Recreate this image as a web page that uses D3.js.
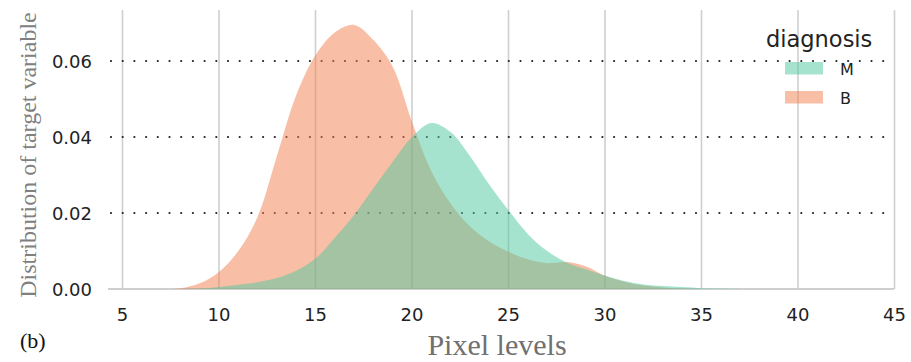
<!DOCTYPE html>
<html>
<head>
<meta charset="utf-8">
<script src="https://cdn.jsdelivr.net/npm/d3@7"></script>
<style>
  html, body { margin: 0; padding: 0; background: #fff; }
  svg { display: block; }
</style>
</head>
<body>
<svg id="chart" width="911" height="362"></svg>
<script>
// ── DATA ──────────────────────────────────────────────────────────────────────

const pixelLevels = [5, 6, 7, 8, 9, 10, 11, 12, 13, 14, 15, 16, 17, 18, 19, 20, 21, 22, 23, 24, 25,
                     26, 27, 28, 29, 30, 31, 32, 33, 34, 35, 36, 37, 40, 45];

const densityM = [0, 0, 0, 0, 0.0001, 0.0005, 0.0011, 0.0018, 0.0029, 0.0048, 0.0080, 0.0135, 0.0195,
                  0.0265, 0.0335, 0.0400, 0.0437, 0.0413, 0.0350, 0.0275, 0.0207, 0.0145, 0.0100,
                  0.0070, 0.0052, 0.0035, 0.0021, 0.0012, 0.0008, 0.0005, 0.0002, 0.0001, 0, 0, 0];

const densityB = [0, 0, 0, 0.0002, 0.0015, 0.0045, 0.0100, 0.0190, 0.0350, 0.0510, 0.0615, 0.0675,
                  0.0695, 0.0655, 0.0585, 0.0440, 0.0310, 0.0225, 0.0165, 0.0125, 0.0098, 0.0078,
                  0.0068, 0.0071, 0.0060, 0.0035, 0.0019, 0.0009, 0.0004, 0.0001, 0, 0, 0, 0, 0];

const xTicks = [5, 10, 15, 20, 25, 30, 35, 40, 45];
const yTicks = [0, 0.02, 0.04, 0.06];
const legendItems = ['M', 'B'];

const COLORS = { M: '#4dc79f', B: '#f17f4d' };

// ── SCALES ────────────────────────────────────────────────────────────────────

const svg = d3.select('#chart');

const x = d3.scaleLinear().domain([5, 45]).range([122.5, 894.5]);
const y = d3.scaleLinear().domain([0, 0.06]).range([289, 61]);
const plotTop = 10;

// ── GRID ──────────────────────────────────────────────────────────────────────

// vertical grid lines
svg.append('g')
  .selectAll('line')
  .data(xTicks)
  .join('line')
  .attr('x1', d => x(d)).attr('x2', d => x(d))
  .attr('y1', plotTop).attr('y2', y(0))
  .attr('stroke', '#cfcfcf')
  .attr('stroke-width', 1.6);

// dotted horizontal lines
svg.append('g')
  .selectAll('line')
  .data(yTicks.filter(d => d > 0))
  .join('line')
  .attr('x1', 111).attr('x2', 893)
  .attr('y1', d => y(d)).attr('y2', d => y(d))
  .attr('stroke', '#222')
  .attr('stroke-width', 2.2)
  .attr('stroke-linecap', 'round')
  .attr('stroke-dasharray', '0 11.7');

// baseline
svg.append('line')
  .attr('x1', 108).attr('x2', 894)
  .attr('y1', y(0)).attr('y2', y(0))
  .attr('stroke', '#cfcfcf')
  .attr('stroke-width', 2);

// ── DENSITY AREAS ─────────────────────────────────────────────────────────────

const area = d3.area()
  .x(d => x(d[0]))
  .y0(y(0))
  .y1(d => y(Math.max(0, d[1])))
  .curve(d3.curveCatmullRom.alpha(0.5));

svg.append('path')
  .datum(pixelLevels.map((p, i) => [p, densityB[i]]))
  .attr('d', area)
  .attr('fill', COLORS.B)
  .attr('fill-opacity', 0.5);

svg.append('path')
  .datum(pixelLevels.map((p, i) => [p, densityM[i]]))
  .attr('d', area)
  .attr('fill', COLORS.M)
  .attr('fill-opacity', 0.5);

// ── AXES LABELS ───────────────────────────────────────────────────────────────

svg.append('g')
  .selectAll('text')
  .data(xTicks)
  .join('text')
  .attr('x', d => x(d))
  .attr('y', 321)
  .attr('text-anchor', 'middle')
  .attr('font-family', "'DejaVu Sans', sans-serif")
  .attr('font-size', 18)
  .attr('fill', '#222')
  .text(d => d);

svg.append('g')
  .selectAll('text')
  .data(yTicks)
  .join('text')
  .attr('x', 92)
  .attr('y', d => y(d) + 6.5)
  .attr('text-anchor', 'end')
  .attr('font-family', "'DejaVu Sans', sans-serif")
  .attr('font-size', 18)
  .attr('fill', '#222')
  .text(d => d3.format('.2f')(d));

svg.append('text')
  .attr('transform', 'translate(36,155) rotate(-90)')
  .attr('text-anchor', 'middle')
  .attr('font-family', "'Liberation Serif', serif")
  .attr('font-size', 24)
  .attr('fill', '#808080')
  .text('Distribution of target variable');

svg.append('text')
  .attr('x', 497)
  .attr('y', 355)
  .attr('text-anchor', 'middle')
  .attr('font-family', "'Liberation Serif', serif")
  .attr('font-size', 30)
  .attr('fill', '#707070')
  .text('Pixel levels');

svg.append('text')
  .attr('x', 20)
  .attr('y', 348)
  .attr('font-family', "'Liberation Serif', serif")
  .attr('font-size', 22)
  .attr('fill', '#111')
  .text('(b)');

// ── LEGEND ────────────────────────────────────────────────────────────────────

const legend = svg.append('g');

legend.append('text')
  .attr('x', 766)
  .attr('y', 47)
  .attr('font-family', "'DejaVu Sans', sans-serif")
  .attr('font-size', 22.5)
  .attr('fill', '#222')
  .text('diagnosis');

const rows = legend.selectAll('g.item')
  .data(legendItems)
  .join('g')
  .attr('class', 'item')
  .attr('transform', (d, i) => `translate(785,${62 + i * 29})`);

rows.append('rect')
  .attr('width', 38).attr('height', 12.5)
  .attr('fill', d => COLORS[d])
  .attr('fill-opacity', 0.5);

rows.append('text')
  .attr('x', 55)
  .attr('y', 12.5)
  .attr('font-family', "'DejaVu Sans', sans-serif")
  .attr('font-size', 16)
  .attr('fill', '#222')
  .text(d => d);
</script>
</body>
</html>
